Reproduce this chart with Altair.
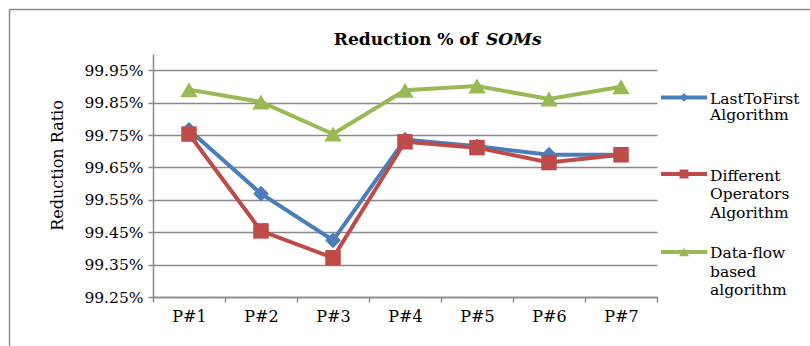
import altair as alt
import pandas as pd

# ---- data ----
categories = ["P#1", "P#2", "P#3", "P#4", "P#5", "P#6", "P#7"]
last_to_first = [99.766, 99.569, 99.425, 99.736, 99.715, 99.689, 99.689]
different_ops = [99.753, 99.454, 99.371, 99.729, 99.711, 99.665, 99.689]
data_flow = [99.890, 99.852, 99.753, 99.888, 99.901, 99.861, 99.899]
y_ticks = [99.25, 99.35, 99.45, 99.55, 99.65, 99.75, 99.85, 99.95]
series_keys = ["LastToFirst Algorithm", "Different Operators Algorithm", "Data-flow based algorithm"]
legend_labels = ["LastToFirst\nAlgorithm", "Different\nOperators\nAlgorithm", "Data-flow\nbased\nalgorithm"]
series_values = [last_to_first, different_ops, data_flow]

colors = ["#4A7EBB", "#BE4B48", "#98B954"]
shapes = ["diamond", "square", "triangle-up"]
sizes = [250, 240, 300]
legend_sizes = [70, 80, 100]

rows = []
for key, vals in zip(series_keys, series_values):
    for c, v in zip(categories, vals):
        rows.append({"cat": c, "val": v, "series": key})
df = pd.DataFrame(rows)

FONT = "DejaVu Serif"
GRAY = "#8a8a8a"

x_enc = alt.X(
    "cat:N",
    sort=categories,
    bandPosition=0.5,
    title=None,
    scale=alt.Scale(type="band", paddingInner=0, paddingOuter=0),
    axis=alt.Axis(
        tickBand="extent", grid=False, labelAngle=0, tickSize=5,
        labelPadding=6, labelFontSize=16, domainColor=GRAY, tickColor=GRAY,
        domainWidth=1.5, tickWidth=1.5,
    ),
)
y_enc = alt.Y(
    "val:Q",
    title="Reduction Ratio",
    scale=alt.Scale(domain=[99.25, 100.0], zero=False, nice=False),
    axis=alt.Axis(
        values=y_ticks,
        labelExpr="format(datum.value, '.2f') + '%'",
        tickSize=5, labelPadding=5, labelFontSize=15.5,
        grid=True, gridColor=GRAY, gridWidth=1.4,
        domainColor=GRAY, tickColor=GRAY, domainWidth=1.5, tickWidth=1.5,
        titleFontSize=16, titleFontWeight="normal",
        titleX=-96, titleY=111, titleAlign="center", titleBaseline="middle",
    ),
)

layers = []
for key, col, shp, sz in zip(series_keys, colors, shapes, sizes):
    base = alt.Chart(df).transform_filter(alt.datum.series == key)
    layers.append(base.mark_line(color=col, strokeWidth=4).encode(x=x_enc, y=y_enc))
    layers.append(
        base.mark_point(shape=shp, filled=True, opacity=1, color=col, size=sz).encode(x=x_enc, y=y_enc)
    )

one = pd.DataFrame({"d": [0]})

# frame border around the chart
frame = alt.Chart(one).mark_rect(fillOpacity=0, stroke="#8c8c8c", strokeWidth=1.5).encode(
    x=alt.value(-143.5), x2=alt.value(720), y=alt.value(-44.5), y2=alt.value(400)
)

# title (mixed styles)
title_a = alt.Chart(one).mark_text(
    font=FONT, fontSize=17, fontWeight="bold", align="right", baseline="alphabetic", color="black"
).encode(x=alt.value(325), y=alt.value(-9), text=alt.value("Reduction % of"))
title_b = alt.Chart(one).mark_text(
    font=FONT, fontSize=17, fontWeight="bold", fontStyle="italic", align="left",
    baseline="alphabetic", color="black"
).encode(x=alt.value(333), y=alt.value(-9), text=alt.value("SOMs"))

# manual legend
legend_line_y = [43.5, 120, 198]
legend_text_y = [49.5, 126.5, 204]
legend_lh = [16.5, 18.5, 18.5]
leg_layers = []
for lab, col, shp, lsz, ly, ty, lh in zip(legend_labels, colors, shapes, legend_sizes,
                                         legend_line_y, legend_text_y, legend_lh):
    leg_layers.append(alt.Chart(one).mark_rule(color=col, strokeWidth=4).encode(
        x=alt.value(508), x2=alt.value(554), y=alt.value(ly)))
    leg_layers.append(alt.Chart(one).mark_point(shape=shp, filled=True, opacity=1, color=col, size=lsz).encode(
        x=alt.value(531), y=alt.value(ly)))
    leg_layers.append(alt.Chart(one).mark_text(
        font=FONT, fontSize=15.5, align="left", baseline="alphabetic", lineBreak="\n",
        lineHeight=lh, color="black"
    ).encode(x=alt.value(557), y=alt.value(ty), text=alt.value(lab)))

chart = alt.layer(frame, *layers, title_a, title_b, *leg_layers).properties(
    width=504,
    height=243,
    padding={"left": 153, "top": 54, "right": 153, "bottom": 49},
    autosize=alt.AutoSizeParams(type="none"),
    background="white",
).configure_view(strokeWidth=0).configure_axis(
    labelFont=FONT, titleFont=FONT, labelColor="black", titleColor="black"
)

chart.save("out.html", embed_options={"renderer": "svg", "actions": False})
